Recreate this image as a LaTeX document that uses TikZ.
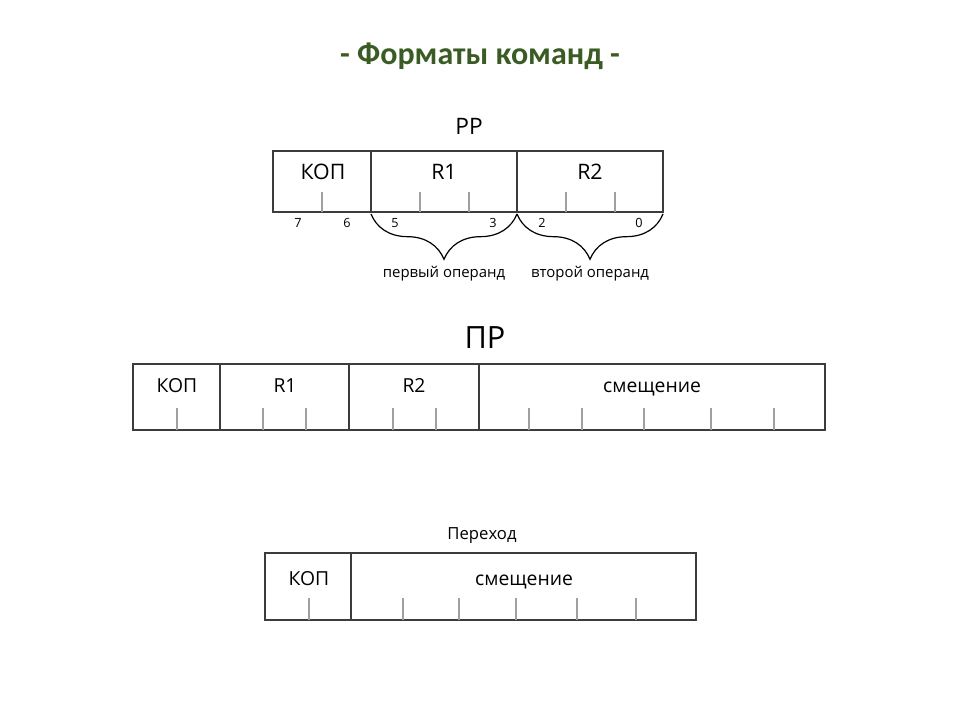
\documentclass[tikz,border=0pt]{standalone}
\usepackage{fontspec}
\setmainfont{Open Sans}
\newfontfamily\titlefont{Carlito}
\usepackage{xcolor}
\usetikzlibrary{positioning,decorations.pathreplacing}
\definecolor{titlegreen}{RGB}{58,92,36}
\definecolor{framegrey}{RGB}{60,60,60}
\definecolor{tickgrey}{RGB}{160,160,160}

\begin{document}
\begin{tikzpicture}[
    x=0.75pt, y=-0.75pt,
    field/.style={draw=framegrey, line width=0.9pt, inner sep=0pt},
    lbl/.style={anchor=base, inner sep=0pt, font=\fontsize{14.5}{16}\selectfont},
    biglbl/.style={anchor=base, inner sep=0pt, font=\fontsize{16}{18}\selectfont},
    bitno/.style={anchor=base, inner sep=0pt, font=\fontsize{9.5}{11}\selectfont},
    oplbl/.style={anchor=base, inner sep=0pt, font=\fontsize{11.2}{13}\selectfont},
    tickline/.style={draw=tickgrey, line width=0.8pt},
    brc/.style={decorate, decoration={brace, mirror, amplitude=34pt, aspect=0.5}, line width=0.9pt}
]
    \useasboundingbox (0,0) rectangle (960,720);
    % title
    \node[anchor=base, inner sep=0pt, font=\titlefont\fontsize{24}{28}\selectfont\bfseries, text=titlegreen] (title) at (480,65) {- Форматы команд -};

    % PP format
    \node[anchor=base, inner sep=0pt, font=\fontsize{17}{20}\selectfont] (ppname) at (469,135) {РР};
    \node[field, minimum width=73.5pt, minimum height=45.75pt] (ppkop) at (322,181.5) {};
    \node[field, minimum width=109.5pt, minimum height=45.75pt] (ppr1) at (444,181.5) {};
    \node[field, minimum width=109.5pt, minimum height=45.75pt] (ppr2) at (590,181.5) {};
    \node[biglbl] (ppkoptext) at (323,180) {КОП};
    \node[biglbl] (ppr1text) at (444,180) {R1};
    \node[biglbl] (ppr2text) at (590,180) {R2};
    \foreach \tx in {322,420,469,566,615}
        \draw[tickline] (\tx,212) -- ++(0,-20);
    \foreach \tx/\bit in {298/7,347/6,395/5,493/3,542/2,639/0}
        \node[bitno] at (\tx,228) {\bit};
    \coordinate (brA) at (371,214);
    \coordinate (brB) at (517,214);
    \coordinate (brC) at (663,214);
    \draw[brc] (brA) -- (brB);
    \draw[brc] (brB) -- (brC);
    \node[oplbl] (op1) at (444,277) {первый операнд};
    \node[oplbl] (op2) at (590,277) {второй операнд};

    % PR format
    \node[anchor=base, inner sep=0pt, font=\fontsize{23}{27}\selectfont] (prname) at (485,349) {ПР};
    \node[field, minimum width=65.25pt, minimum height=49.5pt] (prkop) at (176.5,397) {};
    \node[field, minimum width=96.75pt, minimum height=49.5pt] (prr1) at (284.5,397) {};
    \node[field, minimum width=97.5pt, minimum height=49.5pt] (prr2) at (414,397) {};
    \node[field, minimum width=259.5pt, minimum height=49.5pt] (prdisp) at (652,397) {};
    \node[lbl] (prkoptext) at (177,392) {КОП};
    \node[lbl] (prr1text) at (285,392) {R1};
    \node[lbl] (prr2text) at (414,392) {R2};
    \node[lbl] (prdisptext) at (652,392) {смещение};
    \foreach \tx in {177,263,306,393,436,529,582,644,711,774}
        \draw[tickline] (\tx,430) -- ++(0,-22);

    % jump format
    \node[anchor=base, inner sep=0pt, font=\fontsize{12.5}{14}\selectfont] (jmpname) at (482,539) {Переход};
    \node[field, minimum width=64.5pt, minimum height=50.25pt] (jmpkop) at (308,586.5) {};
    \node[field, minimum width=258.75pt, minimum height=50.25pt] (jmpdisp) at (523.5,586.5) {};
    \node[lbl] (jmpkoptext) at (309,585) {КОП};
    \node[lbl] (jmpdisptext) at (524,585) {смещение};
    \foreach \tx in {309,403,459,516,577,636}
        \draw[tickline] (\tx,620) -- ++(0,-22);
\end{tikzpicture}
\end{document}
